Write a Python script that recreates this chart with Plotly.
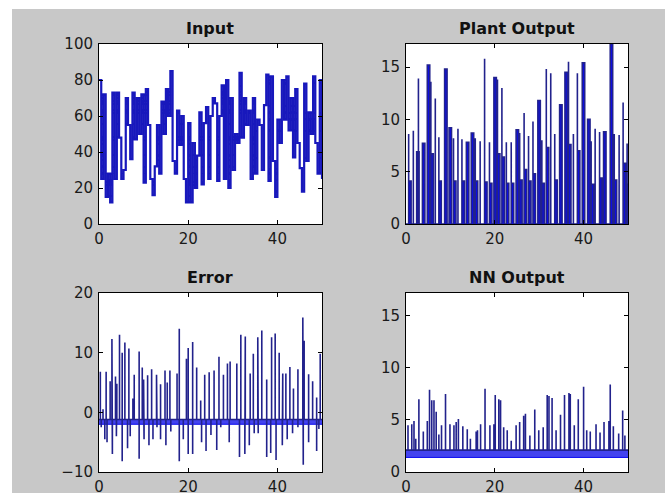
import plotly.graph_objects as go

W, H = 665, 493

# ---- Input: random step signal, one level every half second ----
input_step = 0.5
input_values = [
    80, 25, 72, 15, 28, 12, 73, 25, 73, 48,
    25, 30, 70, 55, 36, 73, 47, 70, 50, 72,
    23, 75, 55, 25, 16, 32, 55, 28, 68, 50,
    75, 60, 85, 35, 28, 63, 44, 60, 25, 12,
    56, 12, 45, 20, 38, 62, 22, 56, 65, 25,
    60, 70, 67, 24, 60, 77, 25, 80, 20, 70,
    30, 50, 45, 84, 48, 70, 55, 63, 25, 70,
    28, 58, 55, 30, 66, 83, 24, 82, 35, 15,
    58, 45, 80, 58, 82, 52, 70, 37, 75, 45,
    31, 18, 78, 35, 62, 50, 82, 45, 28, 80,
    25,
]

# ---- Plant output: pulse times, pulse peaks and the level held after each peak ----
plant_t = [0.6, 1.65, 2.4, 2.8, 3.7, 4.8, 5.6, 6.6, 7.4, 8.7,
           9.7, 10.7, 11.7, 12.6, 13.6, 14.7, 15.6, 16.7, 17.7, 18.8,
           19.8, 20.6, 21.6, 22.6, 23.7, 24.8, 25.6, 26.6, 27.6, 28.6,
           29.7, 30.6, 31.6, 32.6, 33.5, 34.6, 35.8, 36.6, 37.7, 38.6,
           39.7, 40.9, 41.7, 42.6, 43.6, 44.5, 46.0, 46.9, 48.0, 48.9, 49.8]
plant_peak = [8.6, 8.9, 6.9, 13.9, 7.7, 15.2, 13.6, 12.0, 8.3, 14.8,
              9.2, 8.2, 9.1, 8.1, 7.8, 8.7, 8.2, 7.9, 15.8, 7.8,
              14.0, 13.8, 13.0, 7.8, 7.8, 9.0, 8.7, 10.6, 8.4, 9.8,
              11.8, 8.0, 14.8, 14.4, 8.6, 11.4, 14.5, 15.5, 8.6, 14.4,
              15.4, 10.0, 7.9, 9.1, 8.8, 8.8, 17.2, 8.6, 8.5, 11.6, 7.7]
plant_hold = [4.1, 0.0, 6.9, 0.0, 7.7, 15.2, 6.7, 0.0, 4.1, 14.8,
              9.2, 4.1, 0.0, 4.1, 7.8, 8.7, 4.1, 0.0, 4.0, 3.9,
              14.0, 6.7, 6.4, 3.9, 3.9, 9.0, 4.2, 5.2, 4.1, 4.8,
              11.8, 3.9, 7.3, 0.0, 4.2, 11.4, 14.5, 7.6, 0.0, 7.0,
              15.4, 10.0, 3.8, 0.0, 4.4, 8.8, 17.2, 4.2, 0.0, 5.8, 3.8]

# ---- Error: resting level with positive and negative excursions ----
err_rest = -1.2
err_floor = -2.0
err_up_t = [0.3, 0.9, 1.6, 2.5, 2.9, 3.7, 4.0, 4.6, 5.2, 5.8,
            6.7, 7.6, 7.9, 9.0, 9.7, 10.0, 10.9, 11.8, 12.9, 13.8,
            14.8, 15.3, 15.9, 17.5, 18.0, 19.6, 20.0, 21.0, 21.9, 22.8,
            23.7, 24.7, 25.8, 26.9, 27.9, 28.8, 29.4, 30.9, 31.8, 32.8,
            33.9, 34.6, 35.6, 36.5, 37.6, 38.7, 39.5, 40.4, 41.2, 41.9,
            42.8, 43.6, 44.6, 45.7, 46.0, 47.0, 47.9, 48.8, 49.6]
err_up = [6.8, 0.5, 6.8, 5.2, 12.3, 6.0, 4.8, 13.0, 10.0, 11.7,
          10.7, 2.3, 6.3, 10.2, 7.5, 5.5, 6.2, 7.2, 6.3, 4.7,
          7.0, 5.0, 7.0, 6.5, 14.0, 9.0, 10.8, 11.8, 7.5, 2.0,
          6.3, 6.7, 7.0, 9.3, 6.3, 8.2, 8.5, 8.2, 13.0, 12.7,
          6.5, 9.8, 12.6, 13.7, 5.5, 12.6, 13.2, 10.0, 6.5, 6.5,
          7.6, 4.0, 7.2, 15.9, 12.0, 6.4, 5.2, 2.5, 9.8]
err_dn_t = [0.5, 1.3, 1.8, 3.0, 3.9, 5.2, 6.4, 7.0, 9.0, 10.1,
            11.2, 12.1, 13.0, 13.8, 15.0, 16.1, 18.0, 18.9, 20.0, 21.0,
            23.0, 24.0, 25.1, 26.4, 27.3, 29.2, 31.5, 32.7, 33.7, 34.8,
            35.7, 37.6, 38.5, 39.7, 41.1, 42.2, 43.4, 44.6, 45.8, 47.0,
            48.8, 49.3]
err_dn = [-2.5, -4.5, -5.0, -7.0, -4.0, -8.2, -6.0, -4.0, -7.8, -4.5,
          -5.5, -4.5, -2.5, -4.5, -5.5, -3.2, -8.2, -4.5, -7.0, -7.0,
          -5.0, -6.5, -3.8, -6.3, -2.5, -5.0, -7.5, -7.0, -5.5, -3.5,
          -3.5, -7.5, -6.8, -8.0, -5.5, -4.5, -3.5, -2.5, -8.8, -5.0,
          -6.5, -2.8]

# ---- NN output: resting band with positive peaks ----
nn_rest = 2.1
nn_floor = 1.4
nn_t = [0.45, 1.3, 1.8, 2.2, 2.9, 3.9, 4.8, 5.3, 5.8, 6.3,
        6.8, 7.4, 8.0, 8.9, 9.9, 10.8, 11.3, 11.8, 12.8, 13.8,
        14.5, 15.8, 16.1, 16.8, 17.8, 18.9, 19.8, 20.1, 20.9, 21.3,
        22.0, 22.8, 23.7, 24.8, 25.6, 26.5, 26.9, 27.9, 29.0, 29.9,
        30.9, 31.8, 32.2, 32.9, 33.8, 34.8, 35.7, 36.7, 37.0, 37.9,
        38.8, 40.0, 40.7, 41.5, 42.8, 43.7, 44.6, 45.7, 46.0, 46.7,
        47.9, 48.8, 49.3]
nn_peak = [4.5, 4.6, 4.9, 3.2, 7.0, 3.9, 4.9, 7.9, 6.9, 6.9,
           5.8, 3.6, 4.5, 7.5, 4.6, 4.5, 4.8, 5.1, 4.4, 4.1,
           3.2, 3.9, 4.0, 4.6, 8.0, 4.5, 4.6, 7.4, 7.0, 6.9,
           4.3, 4.0, 3.0, 4.5, 4.8, 5.4, 5.6, 3.5, 6.0, 4.0,
           4.3, 7.4, 7.3, 7.1, 4.0, 5.5, 7.4, 7.6, 7.5, 4.5,
           7.0, 8.2, 4.0, 3.9, 4.6, 3.8, 4.8, 4.9, 8.4, 4.4,
           3.7, 5.9, 3.5]

T_END = 50
DARK = "#22228c"
BLUE = "#0a0af0"
BAND = "rgba(20, 20, 235, 0.8)"


def px_x(p):
    return p / W


def px_y(p):
    return 1 - p / H


# ---- build polylines from the sampled values ----
in_x = [i * input_step for i in range(len(input_values))]

pl_x, pl_y = [0], [0]
for t, pk, hd in zip(plant_t, plant_peak, plant_hold):
    pl_x += [t, t, t]
    pl_y += [0, pk, hd]
    pl_x += [t + 0.55, t + 0.55]
    pl_y += [hd, 0]
pl_x.append(T_END)
pl_y.append(0)

events = sorted(list(zip(err_up_t, err_up)) + list(zip(err_dn_t, err_dn)))
er_x, er_y = [0], [err_rest]
for t, v in events:
    er_x += [t, t, t]
    er_y += [err_rest, v, err_rest]
er_x.append(T_END)
er_y.append(err_rest)

nn_x, nn_y = [0], [nn_rest]
for t, v in zip(nn_t, nn_peak):
    nn_x += [t, t, t]
    nn_y += [nn_rest, v, nn_rest]
nn_x.append(T_END)
nn_y.append(nn_rest)

fig = go.Figure()
fig.add_trace(go.Scatter(x=in_x, y=input_values, mode="lines", line_shape="hv",
                         line=dict(color="#1818bc", width=2.2), xaxis="x", yaxis="y"))
fig.add_trace(go.Scatter(x=pl_x, y=pl_y, mode="lines", fill="tozeroy",
                         fillcolor=BLUE, line=dict(color=DARK, width=1.6),
                         xaxis="x2", yaxis="y2"))
# lower edge of the dense resting band, then the error series filled down to it
fig.add_trace(go.Scatter(x=[0, T_END], y=[err_floor, err_floor], mode="lines",
                         line=dict(color=BLUE, width=1), xaxis="x3", yaxis="y3"))
fig.add_trace(go.Scatter(x=er_x, y=er_y, mode="lines", fill="tonexty",
                         fillcolor=BAND, line=dict(color=DARK, width=1.6),
                         xaxis="x3", yaxis="y3"))
fig.add_trace(go.Scatter(x=[0, T_END], y=[nn_floor, nn_floor], mode="lines",
                         line=dict(color=BLUE, width=1), xaxis="x4", yaxis="y4"))
fig.add_trace(go.Scatter(x=nn_x, y=nn_y, mode="lines", fill="tonexty",
                         fillcolor=BAND, line=dict(color=DARK, width=1.6),
                         xaxis="x4", yaxis="y4"))

tick_font = dict(family="DejaVu Sans", size=15, color="#1a1a1a")
panels = {
    # name: (left, right, top, bottom) in pixels, y-range, y ticks, title
    "1": ((99, 322, 44, 224), [0, 100], [0, 20, 40, 60, 80, 100], "Input"),
    "2": ((406, 628, 44, 224), [0, 17.2], [0, 5, 10, 15], "Plant Output"),
    "3": ((99, 322, 293, 472), [-10, 20], [-10, 0, 10, 20], "Error"),
    "4": ((406, 628, 293, 472), [0, 17.2], [0, 5, 10, 15], "NN Output"),
}

layout = dict(
    width=W, height=H,
    margin=dict(l=0, r=0, t=0, b=0),
    paper_bgcolor="#c8c8c8",
    plot_bgcolor="white",
    showlegend=False,
    template="none",
)
annotations = []
for k, ((l, r, t, b), yr, yt, title) in panels.items():
    sfx = "" if k == "1" else k
    layout["xaxis" + sfx] = dict(
        domain=[px_x(l), px_x(r)], range=[0, T_END], anchor="y" + sfx,
        tickvals=[0, 20, 40], ticks="inside", ticklen=4, tickcolor="black",
        showline=True, linecolor="black", linewidth=1, mirror="ticks",
        showgrid=False, zeroline=False, tickfont=tick_font, automargin=False,
        ticklabelstandoff=1,
    )
    layout["yaxis" + sfx] = dict(
        domain=[px_y(b), px_y(t)], range=yr, anchor="x" + sfx,
        tickvals=yt, ticks="inside", ticklen=4, tickcolor="black",
        showline=True, linecolor="black", linewidth=1, mirror="ticks",
        showgrid=False, zeroline=False, tickfont=tick_font, automargin=False,
        ticklabelstandoff=2,
    )
    annotations.append(dict(
        text="<b>%s</b>" % title, xref="paper", yref="paper",
        x=px_x((l + r) / 2), y=px_y(t - 4), xanchor="center", yanchor="bottom",
        showarrow=False, font=dict(family="DejaVu Sans", size=16, color="#111111"),
    ))
layout["annotations"] = annotations
layout["shapes"] = [
    dict(type="rect", xref="paper", yref="paper", x0=0, x1=px_x(12), y0=0, y1=1,
         fillcolor="white", line=dict(width=0), layer="below"),
    dict(type="rect", xref="paper", yref="paper", x0=0, x1=1, y0=px_y(9), y1=1,
         fillcolor="white", line=dict(width=0), layer="below"),
]
fig.update_layout(**layout)
fig.write_html("out.html")
